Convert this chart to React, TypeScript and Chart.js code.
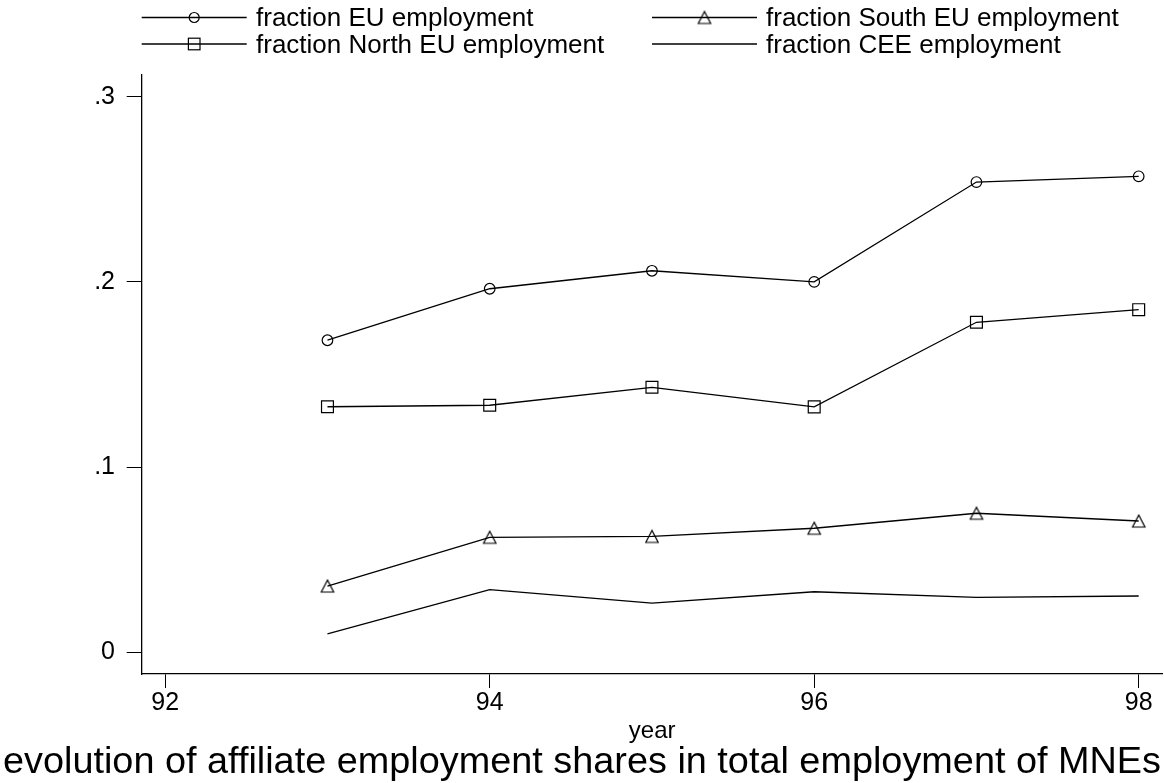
import React, { useEffect, useRef } from "react";
import { Chart, registerables } from "chart.js";

Chart.register(...registerables);

const years = [93, 94, 95, 96, 97, 98];
const euShare = [0.1685, 0.1963, 0.206, 0.2, 0.2539, 0.257];
const northShare = [0.1326, 0.1334, 0.1431, 0.1325, 0.1782, 0.185];
const southShare = [0.0358, 0.0621, 0.0626, 0.067, 0.0751, 0.0709];
const ceeShare = [0.01, 0.0338, 0.0266, 0.0327, 0.0297, 0.0304];

const seriesLabels = [
  "fraction EU employment",
  "fraction North EU employment",
  "fraction South EU employment",
  "fraction CEE employment",
];

const xTickValues = [92, 94, 96, 98];
const xTickLabels = ["92", "94", "96", "98"];
const yTickValues = [0, 0.1, 0.2, 0.3];
const yTickLabels = ["0", ".1", ".2", ".3"];

const xAxisTitle = "year";
const chartTitle = "evolution of affiliate employment shares in total employment of MNEs";

const FONT = '"Liberation Sans", Arial, Helvetica, sans-serif';

function makeTriangle(): HTMLCanvasElement {
  const c = document.createElement("canvas");
  c.width = 18;
  c.height = 18;
  const g = c.getContext("2d")!;
  g.strokeStyle = "#000";
  g.lineWidth = 1.2;
  g.beginPath();
  g.moveTo(9, 3);
  g.lineTo(15.2, 15);
  g.lineTo(2.8, 15);
  g.closePath();
  g.stroke();
  return c;
}

const zeroPad = (s: any) => {
  s.paddingLeft = 0;
  s.paddingRight = 0;
  s.paddingTop = 0;
  s.paddingBottom = 0;
};

export default function App() {
  const ref = useRef<HTMLCanvasElement | null>(null);

  useEffect(() => {
    document.body.style.margin = "0";
    const canvas = ref.current!;
    const tri = makeTriangle();
    const toPts = (vals: number[]) => years.map((x, i) => ({ x, y: vals[i] }));

    const common = {
      borderColor: "#000",
      borderWidth: 1.3,
      backgroundColor: "rgba(0,0,0,0)",
      pointBorderColor: "#000",
      pointBackgroundColor: "rgba(0,0,0,0)",
      pointBorderWidth: 1.2,
      tension: 0,
      fill: false,
    };

    const legendPlugin = {
      id: "customLegendTitle",
      afterDraw(chart: any) {
        const ctx = chart.ctx as CanvasRenderingContext2D;
        const entries = [
          { ds: 0, col: 0, row: 0 },
          { ds: 2, col: 1, row: 0 },
          { ds: 1, col: 0, row: 1 },
          { ds: 3, col: 1, row: 1 },
        ];
        const lineStart = [141.7, 652];
        const lineEnd = [246.7, 757];
        const textX = [256, 766];
        const lineY = [17.5, 44];
        const baseY = [25.5, 52.5];
        ctx.save();
        for (const e of entries) {
          const ds = chart.data.datasets[e.ds];
          const y = lineY[e.row];
          ctx.strokeStyle = "#000";
          ctx.lineWidth = 1.3;
          ctx.beginPath();
          ctx.moveTo(lineStart[e.col], y);
          ctx.lineTo(lineEnd[e.col], y);
          ctx.stroke();
          const mx = (lineStart[e.col] + lineEnd[e.col]) / 2;
          ctx.lineWidth = 1.2;
          if (ds.pointStyle === "circle") {
            ctx.beginPath();
            ctx.arc(mx, y, 5, 0, Math.PI * 2);
            ctx.stroke();
          } else if (ds.pointStyle === "rect") {
            ctx.strokeRect(mx - 5.8, y - 5.8, 11.6, 11.6);
          } else if (ds.pointStyle instanceof HTMLCanvasElement) {
            ctx.drawImage(ds.pointStyle, mx - 9, y - 9);
          }
          ctx.fillStyle = "#000";
          ctx.font = "26px " + FONT;
          ctx.textAlign = "left";
          ctx.textBaseline = "alphabetic";
          ctx.fillText(ds.label, textX[e.col], baseY[e.row]);
        }
        ctx.font = "36px " + FONT;
        const w = ctx.measureText(chartTitle).width;
        ctx.translate(582, 773);
        ctx.scale(1158 / w, 1);
        ctx.textAlign = "center";
        ctx.fillText(chartTitle, 0, 0);
        ctx.restore();
      },
    };

    const chart = new Chart(canvas, {
      type: "line",
      data: {
        datasets: [
          { ...common, label: seriesLabels[0], data: toPts(euShare), pointStyle: "circle", pointRadius: 5.3 },
          { ...common, label: seriesLabels[1], data: toPts(northShare), pointStyle: "rect", pointRadius: 8.4 },
          { ...common, label: seriesLabels[2], data: toPts(southShare), pointStyle: tri as any, pointRadius: 6 },
          { ...common, label: seriesLabels[3], data: toPts(ceeShare), pointRadius: 0 },
        ],
      },
      options: {
        animation: false,
        responsive: false,
        devicePixelRatio: 1,
        layout: { autoPadding: false, padding: { top: 75, right: 1.3, left: 0, bottom: 0 } },
        plugins: {
          legend: { display: false },
          tooltip: { enabled: false },
          title: { display: false },
        },
        scales: {
          x: {
            type: "linear",
            min: 91.855,
            max: 98.148,
            afterBuildTicks: (s: any) => {
              s.ticks = xTickValues.map((v) => ({ value: v }));
            },
            afterFit: (s: any) => {
              s.height = 109;
              zeroPad(s);
            },
            ticks: {
              callback: (_v: any, i: number) => xTickLabels[i],
              font: { family: FONT, size: 25 },
              color: "#000",
              padding: 0,
              maxRotation: 0,
              autoSkip: false,
            },
            grid: { display: true, drawOnChartArea: false, drawTicks: true, tickLength: 14, color: "#000", lineWidth: 1 },
            border: { display: true, color: "#000", width: 1.3 },
            title: {
              display: true,
              text: xAxisTitle,
              color: "#000",
              font: { family: FONT, size: 24 },
              padding: { top: 0, bottom: 37.6 },
            },
          },
          y: {
            type: "linear",
            min: -0.0117,
            max: 0.3117,
            afterBuildTicks: (s: any) => {
              s.ticks = yTickValues.map((v) => ({ value: v }));
            },
            afterFit: (s: any) => {
              s.width = 141.7;
              zeroPad(s);
            },
            ticks: {
              callback: (_v: any, i: number) => yTickLabels[i],
              font: { family: FONT, size: 25 },
              color: "#000",
              padding: 11.7,
              autoSkip: false,
            },
            grid: { display: true, drawOnChartArea: false, drawTicks: true, tickLength: 15, color: "#000", lineWidth: 1 },
            border: { display: true, color: "#000", width: 1.3 },
          },
        },
      },
      plugins: [legendPlugin],
    } as any);

    return () => chart.destroy();
  }, []);

  return (
    <div style={{ width: 1164, height: 783, overflow: "hidden", background: "#fff" }}>
      <canvas ref={ref} width={1164} height={783} style={{ display: "block", width: 1164, height: 783 }} />
    </div>
  );
}
